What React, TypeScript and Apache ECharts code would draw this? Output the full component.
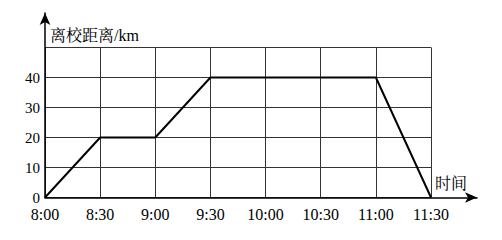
import React, { useEffect, useRef } from "react";
import * as echarts from "echarts";

const timeLabels = ["8:00", "8:30", "9:00", "9:30", "10:00", "10:30", "11:00", "11:30"];
const pointTimes = ["8:00", "8:30", "9:00", "9:30", "11:00", "11:30"];
const distances = [0, 20, 20, 40, 40, 0];
const yTicks = [0, 10, 20, 30, 40];

const toMin = (t: string) => {
  const [h, m] = t.split(":").map(Number);
  return (h - 8) * 60 + m;
};
const toLabel = (v: number) => {
  const h = 8 + Math.floor(v / 60);
  const m = v % 60;
  return `${h}:${m < 10 ? "0" + m : m}`;
};

const FONT = "'Liberation Serif', 'Noto Serif CJK SC', 'Noto Sans CJK SC', serif";

export default function App() {
  const ref = useRef<HTMLDivElement>(null);
  useEffect(() => {
    if (!ref.current) return;
    const chart = echarts.init(ref.current, undefined, { renderer: "svg" });
    const gridColor = "#333";
    chart.setOption({
      animation: false,
      backgroundColor: "#fff",
      grid: [
        { left: 45, right: 71, top: 47.5, bottom: 42.5 },
        { left: 45, right: 25, top: 13, bottom: 42.5 },
      ],
      xAxis: [
        {
          type: "value",
          gridIndex: 0,
          min: 0,
          max: toMin(timeLabels[timeLabels.length - 1]),
          interval: 30,
          name: "时间",
          nameLocation: "end",
          nameGap: 4,
          nameTextStyle: {
            fontFamily: FONT,
            fontSize: 16,
            color: "#000",
            align: "left",
            verticalAlign: "bottom",
            padding: [0, 0, 6, 0],
          },
          axisLine: { show: false },
          axisTick: { show: false },
          axisLabel: {
            fontFamily: FONT,
            fontSize: 16,
            color: "#000",
            margin: 9,
            formatter: (v: number) => (timeLabels.includes(toLabel(v)) ? toLabel(v) : ""),
          },
          splitLine: { show: true, lineStyle: { color: gridColor, width: 1 } },
        },
        {
          type: "value",
          gridIndex: 1,
          min: 0,
          max: 1,
          axisLine: {
            show: true,
            lineStyle: { color: "#000", width: 1.5 },
            symbol: ["none", "arrow"],
            symbolSize: [8, 12],
          },
          axisTick: { show: false },
          axisLabel: { show: false },
          splitLine: { show: false },
        },
      ],
      yAxis: [
        {
          type: "value",
          gridIndex: 0,
          min: 0,
          max: 50,
          interval: 10,
          name: "离校距离/km",
          nameLocation: "end",
          nameGap: 4,
          nameTextStyle: {
            fontFamily: FONT,
            fontSize: 16,
            color: "#000",
            align: "left",
            verticalAlign: "bottom",
            padding: [0, 0, 0, 5],
          },
          axisLine: { show: false },
          axisTick: { show: false },
          axisLabel: {
            fontFamily: FONT,
            fontSize: 15,
            color: "#000",
            margin: 5,
            formatter: (v: number) => (yTicks.includes(v) ? String(v) : ""),
          },
          splitLine: { show: true, lineStyle: { color: gridColor, width: 1 } },
        },
        {
          type: "value",
          gridIndex: 1,
          min: 0,
          max: 1,
          axisLine: {
            show: true,
            lineStyle: { color: "#000", width: 1.5 },
            symbol: ["none", "arrow"],
            symbolSize: [8, 12],
          },
          axisTick: { show: false },
          axisLabel: { show: false },
          splitLine: { show: false },
        },
      ],
      series: [
        {
          type: "line",
          xAxisIndex: 0,
          yAxisIndex: 0,
          data: pointTimes.map((t, i) => [toMin(t), distances[i]]),
          symbol: "none",
          lineStyle: { color: "#000", width: 2 },
        },
      ],
    });
    return () => chart.dispose();
  }, []);
  return (
    <div
      ref={ref}
      style={{ position: "fixed", left: 0, top: 0, width: 502, height: 240, background: "#fff" }}
    />
  );
}
